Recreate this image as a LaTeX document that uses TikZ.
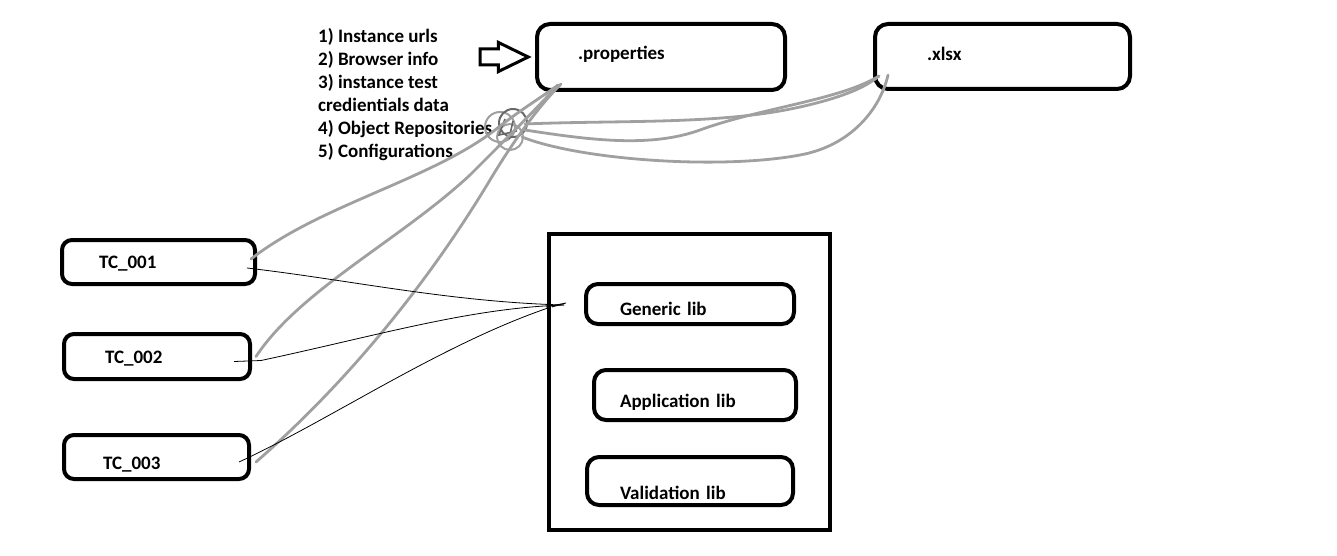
\documentclass[tikz,border=0pt]{standalone}
\usepackage{fontspec}
\setmainfont{Carlito}
\usepackage{xcolor}
\usetikzlibrary{arrows.meta,positioning,calc,shapes.arrows}
\definecolor{pencil}{RGB}{160,160,160}
\definecolor{pencildark}{RGB}{105,105,105}
\tikzset{
  filebox/.style={draw, line width=4pt, rounded corners=13pt, anchor=north west,
    align=left, inner ysep=0pt, text depth=4pt, font=\bfseries\fontsize{19}{23}\selectfont},
  libbox/.style={filebox, rounded corners=12pt},
  greyline/.style={draw=pencil, line width=2.8pt, line cap=round},
  inkline/.style={draw=black, line width=0.8pt},
  hollowarrow/.style={single arrow, draw, line width=3pt, inner xsep=0pt, inner ysep=6.5pt,
    minimum height=48pt, single arrow head extend=6.5pt, single arrow tip angle=52}
}

\begin{document}
\begin{tikzpicture}[x=1pt, y=-1pt]
\useasboundingbox (0,0) rectangle (1337,556);

% files
\node[filebox, text width=166pt, inner xsep=41pt, minimum height=66pt, text height=10pt]
  (props) at (535,22) {.properties};
\node[filebox, text width=151pt, inner xsep=52pt, minimum height=65pt, text height=13pt]
  (xlsx) at (873,22) {.xlsx};
\node[align=left, anchor=north west, inner sep=0pt, font=\bfseries\fontsize{19}{23}\selectfont]
  (items) at (318,28) {1) Instance urls\\2) Browser info\\3) instance test\\credientials data\\4) Object Repositories\\5) Configurations};
\node[hollowarrow] (pointer) at (496,57) {};

% test cases
\node[filebox, rounded corners=10pt, text width=119pt, inner xsep=37pt, minimum height=44pt, text height=16pt]
  (tc1) at (60,238) {TC\_001};
\node[filebox, rounded corners=10pt, text width=104pt, inner xsep=41pt, minimum height=45pt, text height=17pt]
  (tc2) at (62,332) {TC\_002};
\node[filebox, rounded corners=10pt, text width=107pt, inner xsep=39pt, minimum height=44pt, text height=28pt]
  (tc3) at (62,433) {TC\_003};

% libraries
\node[draw, line width=4pt, anchor=north west, minimum width=281pt, minimum height=296pt]
  (libframe) at (547,232) {};
\node[libbox, text width=140pt, inner xsep=34pt, minimum height=40pt, text height=26pt]
  (generic) at (584,282) {Generic lib};
\node[libbox, text width=150pt, inner xsep=26pt, minimum height=50pt, text height=28pt]
  (application) at (592,368) {Application lib};
\node[libbox, text width=140pt, inner xsep=33pt, minimum height=48pt, text height=40pt]
  (validation) at (585,455) {Validation lib};

% pencil knot between the files
\coordinate (knot) at (507,127);
\coordinate (propsfoot) at (558,85);
\coordinate (xlsxfoot) at (879,76);
\coordinate (hub) at (564,305);
\draw[pencil, line width=2pt] (knot) ++(-7,0) circle (15pt);
\draw[pencildark, line width=2pt] (knot) ++(6,-4) circle (14pt);
\draw[pencil, line width=2pt] (knot) ++(3,10) circle (13pt);
\draw[pencildark, line width=1.6pt] ($(knot)+(-2,-8)$) -- ($(knot)+(-8,8)$) -- ($(knot)+(10,4)$)
  ($(knot)+(6,-6)$) -- ($(knot)+(2,12)$);

\draw[greyline] ([shift={(-6,-3)}]tc1.east) .. controls (320,205) and (430,180) .. (495,130)
  .. controls (520,110) and (545,95) .. (propsfoot);
\draw[greyline] ([shift={(4,0)}]tc2.east) .. controls (300,290) and (400,240) .. (470,175)
  .. controls (510,135) and (540,105) .. (propsfoot);
\draw[greyline] ([shift={(5,5)}]tc3.east) .. controls (350,380) and (430,280) .. (490,180)
  .. controls (520,130) and (545,100) .. ([shift={(3,-1)}]propsfoot);

\draw[greyline] ($(knot)+(18,-3)$) .. controls (620,120) and (720,125) .. (800,107)
  .. controls (840,98) and (865,88) .. (xlsxfoot);
\draw[greyline] ($(knot)+(18,3)$) .. controls (590,140) and (650,148) .. (700,130)
  .. controls (760,108) and (840,100) .. (xlsxfoot);
\draw[greyline] ($(knot)+(15,10)$) .. controls (580,160) and (720,170) .. (800,155)
  .. controls (850,146) and (880,110) .. ([shift={(9,-1)}]xlsxfoot);

% ink lines to the libraries
\draw[inkline] ([shift={(-10,6)}]tc1.east) .. controls (350,280) and (450,302) .. (hub);
\draw[inkline] ([shift={(-18,5)}]tc2.east) -- ++(27,-1) .. controls (380,335) and (470,308) .. (hub);
\draw[inkline] ([shift={(-12,5)}]tc3.east) .. controls (330,420) and (440,345) .. ([shift={(-16,3)}]hub);
\draw[inkline] ([shift={(-18,2)}]hub) -- ([shift={(2,-2)}]hub) -- ([shift={(-12,2)}]hub);
\end{tikzpicture}
\end{document}
